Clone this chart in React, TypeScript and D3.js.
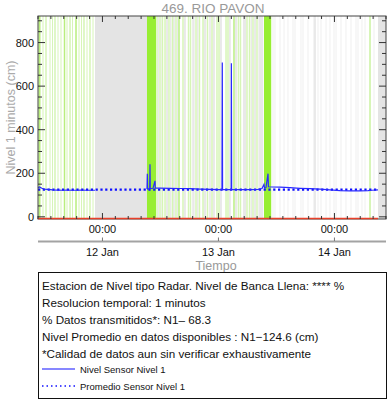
import React from 'react';
import * as d3 from 'd3';

// ---------- data ----------
const START = new Date(2024, 0, 11, 10, 40);
const SPAN_HOURS = 72;
const TITLE = '469. RIO PAVON';
const Y_LABEL = 'Nivel 1 minutos (cm)';
const X_LABEL = 'Tiempo';
const Y_DOMAIN: [number, number] = [-10, 922];
const Y_MAJOR = [0, 200, 400, 600, 800];
const Y_MINOR_STEP = 50;
const X_MINOR_HOURS = 8 / 3; // 2h40m
const MEAN_N1 = 124.6;
const DATA_END_HOUR = 70.34;

// hours since START, level (cm); null = gap
const sensorN1: [number, number | null][] = [
  [0, 134], [0.3, 137], [0.8, 131], [1.3, 127], [2, 126], [3, 124], [4, 123], [5, 122],
  [6, 123], [7, 122], [8, 122], [9, 123], [10, 122], [11, 122], [11.79, 122],
  [11.9, null],
  [22.55, 128], [22.62, 198], [22.68, 128], [23.11, 130], [23.17, 241], [23.23, 130],
  [23.79, 131], [24.21, 165], [24.27, 132], [25.24, 132], [27.31, 131], [29.38, 130],
  [31.45, 129], [33.52, 127], [35.59, 126], [37.24, 125], [38.07, 125], [38.13, 709],
  [38.19, 125], [39.31, 125], [39.97, 125], [40.01, 705], [40.07, 125], [41.79, 125],
  [43.86, 125], [45.52, 126], [46.34, 130], [46.76, 149], [46.86, 132], [47.17, 134],
  [47.59, 198], [47.67, 138], [48.41, 137], [50.07, 136], [52.14, 134], [54.21, 131],
  [56.28, 129], [58.34, 127], [60.41, 124], [62.48, 120], [64.55, 119], [66.62, 119],
  [68.28, 120], [69.10, 122], [70.34, 124],
];

const missingBlocks: [number, number][] = [[11.79, 22.55], [70.34, 72]];
const greenBlocks: [number, number][] = [[22.55, 24.41], [46.76, 48.25]];
const lightGreenBands: [number, number][] = [
  [0.93, 1.14], [1.50, 1.81], [2.38, 2.59], [2.90, 3.10], [3.36, 3.67], [4.04, 4.24],
  [4.66, 4.86], [5.90, 6.10], [6.47, 6.78], [7.04, 7.24], [8.38, 8.59], [8.90, 9.10],
  [9.36, 9.67], [10.04, 10.24], [10.60, 10.91], [11.28, 11.48],
  [24.47, 24.77], [25.09, 25.39], [25.61, 25.91], [26.13, 26.43], [26.95, 27.25],
  [27.68, 27.98], [28.40, 28.70], [29.85, 30.15], [30.99, 31.29], [31.40, 31.70],
  [32.54, 32.84], [33.26, 33.56], [33.99, 34.29], [34.92, 35.22], [35.85, 36.15],
  [36.88, 37.18], [37.30, 37.60], [38.75, 39.05], [39.16, 39.46], [41.33, 41.63],
  [41.75, 42.05], [43.09, 43.39], [43.61, 43.91], [44.33, 44.63], [45.16, 45.46],
  [68.49, 68.89],
];
const mediumGreenBands: [number, number][] = [
  [0.10, 0.52], [5.33, 5.64], [7.71, 8.02], [29.02, 29.32], [40.40, 40.70],
];
const grayBands: [number, number][] = [
  [24.8, 25.05], [25.42, 25.58], [26.5, 26.9], [27.3, 27.6], [27.95, 28.3], [28.75, 28.98],
  [30.2, 30.6], [31.9, 32.4], [32.9, 33.2], [34.3, 34.8], [35.4, 35.75],
  [36.2, 36.6], [37.65, 38.05], [39.5, 39.9], [40.75, 41.2], [42.4, 43.05], [44.0, 44.3],
  [44.7, 45.1], [45.6, 46.6], [57.0, 57.5],
];
const faintGrayLines: [number, number][] = [
  [48.52, 48.72], [48.93, 49.13], [49.97, 50.17], [50.8, 51.0], [51.62, 51.82],
  [52.66, 52.86], [53.07, 53.27], [54.31, 54.51], [54.73, 54.93], [55.76, 55.96],
  [57.83, 58.03], [58.45, 58.65], [59.49, 59.69], [60.31, 60.51], [61.14, 61.34],
  [61.56, 61.76], [62.59, 62.79], [63.62, 63.82], [64.66, 64.86], [65.69, 65.89],
  [66.11, 66.31], [66.93, 67.13], [67.56, 67.76], [69.42, 69.62],
];

const infoLines = [
  'Estacion de Nivel tipo Radar. Nivel de Banca Llena: **** %',
  'Resolucion temporal: 1 minutos',
  '% Datos transmitidos*: N1\u2013 68.3',
  'Nivel Promedio en datos disponibles : N1\u2212124.6 (cm)',
  '*Calidad de datos aun sin verificar exhaustivamente',
];
const legendItems = ['Nivel Sensor Nivel 1', 'Promedio Sensor Nivel 1'];

// ---------- layout ----------
const W = 388, H = 404;
const L = 38, R = 386, T = 16, B = 219;
const FONT = '"Liberation Sans", Arial, Helvetica, sans-serif';

const hourToDate = (h: number) => new Date(START.getTime() + h * 3600e3);

export default function App() {
  const x = d3.scaleTime().domain([START, hourToDate(SPAN_HOURS)]).range([L, R]);
  const xh = (h: number) => x(hourToDate(h));
  const y = d3.scaleLinear().domain(Y_DOMAIN).range([B, T]);

  const line = d3.line<[number, number | null]>()
    .defined(d => d[1] !== null)
    .x(d => xh(d[0]))
    .y(d => y(d[1] as number));

  const midnights = d3.timeDay.range(x.domain()[0], x.domain()[1]).filter(d => d > START);
  const minorX = d3.range(0, SPAN_HOURS + 0.001, X_MINOR_HOURS).map(hourToDate);
  const minorY = d3.range(0, 901, Y_MINOR_STEP);
  const fmtDay = d3.timeFormat('%-d %b');
  const fmtHour = d3.timeFormat('%H:%M');

  const band = (arr: [number, number][], fill: string, key: string) =>
    arr.map((b, i) => (
      <rect key={key + i} x={xh(b[0])} y={T} width={Math.max(0.6, xh(b[1]) - xh(b[0]))} height={B - T} fill={fill} />
    ));

  const isMajor = (d: Date) => midnights.some(m => Math.abs(m.getTime() - d.getTime()) < 60000);

  return (
    <svg width={W} height={H} style={{ position: 'absolute', left: 0, top: 0, background: '#fff' }} fontFamily={FONT}>
      {/* background bands */}
      {band(missingBlocks, '#e4e4e4', 'mb')}
      {band(grayBands, '#e9e9e9', 'gb')}
      {band(lightGreenBands, '#d6f5b6', 'lg')}
      {band(mediumGreenBands, '#b9ee7e', 'mg')}
      {band(faintGrayLines, '#efefef', 'fg')}
      {band(greenBlocks, '#97ee32', 'gk')}

      {/* mean dotted */}
      <line x1={xh(0)} x2={xh(DATA_END_HOUR)} y1={y(MEAN_N1)} y2={y(MEAN_N1)}
        stroke="#1010ff" strokeWidth={2.2} strokeDasharray="2.2,2.6" />
      {/* sensor line */}
      <path d={line(sensorN1) || ''} fill="none" stroke="#2a2aff" strokeWidth={1.2} />

      {/* frame */}
      <rect x={L} y={T} width={R - L} height={B - T} fill="none" stroke="#444" strokeWidth={1} />
      {/* red baseline */}
      <line x1={xh(0)} x2={xh(DATA_END_HOUR)} y1={B - 0.5} y2={B - 0.5} stroke="#e8402a" strokeWidth={1.5} />

      {/* y ticks */}
      {minorY.map(v => {
        const major = Y_MAJOR.includes(v);
        const len = major ? 7 : 4;
        return (
          <g key={'yt' + v} stroke="#333" strokeWidth={1}>
            <line x1={L} x2={L + len} y1={y(v)} y2={y(v)} />
            <line x1={R} x2={R - len} y1={y(v)} y2={y(v)} />
          </g>
        );
      })}
      {Y_MAJOR.map(v => (
        <text key={'yl' + v} x={34} y={y(v) + 4} fontSize={11} textAnchor="end" fill="#111">{v}</text>
      ))}

      {/* x ticks */}
      {minorX.map((d, i) => {
        const len = isMajor(d) ? 6 : 3;
        return (
          <g key={'xt' + i} stroke="#333" strokeWidth={1}>
            <line x1={x(d)} x2={x(d)} y1={B} y2={B - len} />
            <line x1={x(d)} x2={x(d)} y1={T} y2={T + len} />
          </g>
        );
      })}
      {midnights.map((d, i) => (
        <text key={'xh' + i} x={x(d)} y={233} fontSize={11} textAnchor="middle" fill="#111">{fmtHour(d)}</text>
      ))}

      {/* secondary date axis */}
      <line x1={L} x2={R} y1={241.5} y2={241.5} stroke="#a3a3a3" strokeWidth={2} />
      {midnights.map((d, i) => (
        <g key={'xd' + i}>
          <line x1={x(d)} x2={x(d)} y1={241} y2={237.5} stroke="#777" strokeWidth={1} />
          <text x={x(d)} y={256} fontSize={11} textAnchor="middle" fill="#111">{fmtDay(d)}</text>
        </g>
      ))}

      {/* titles */}
      <text x={213} y={12.5} fontSize={13.5} textAnchor="middle" fill="#999">{TITLE}</text>
      <text x={216} y={269.5} fontSize={12.5} textAnchor="middle" fill="#999">{X_LABEL}</text>
      <text transform={`translate(14.5,${(T + B) / 2}) rotate(-90)`} fontSize={12.5} textAnchor="middle" fill="#aaa">{Y_LABEL}</text>

      {/* info box */}
      <rect x={38.5} y={272.5} width={348} height={126} fill="none" stroke="#111" strokeWidth={1} />
      {infoLines.map((t, i) => (
        <text key={'il' + i} x={42} y={290 + i * 16.9} fontSize={11.7} fill="#111">{t}</text>
      ))}
      <line x1={42} x2={75} y1={369} y2={369} stroke="#1010ff" strokeWidth={1.2} />
      <text x={80} y={372.5} fontSize={9.5} fill="#111">{legendItems[0]}</text>
      <line x1={42} x2={75} y1={386} y2={386} stroke="#1010ff" strokeWidth={1.5} strokeDasharray="1.5,3" />
      <text x={80} y={389.5} fontSize={9.5} fill="#111">{legendItems[1]}</text>
    </svg>
  );
}
